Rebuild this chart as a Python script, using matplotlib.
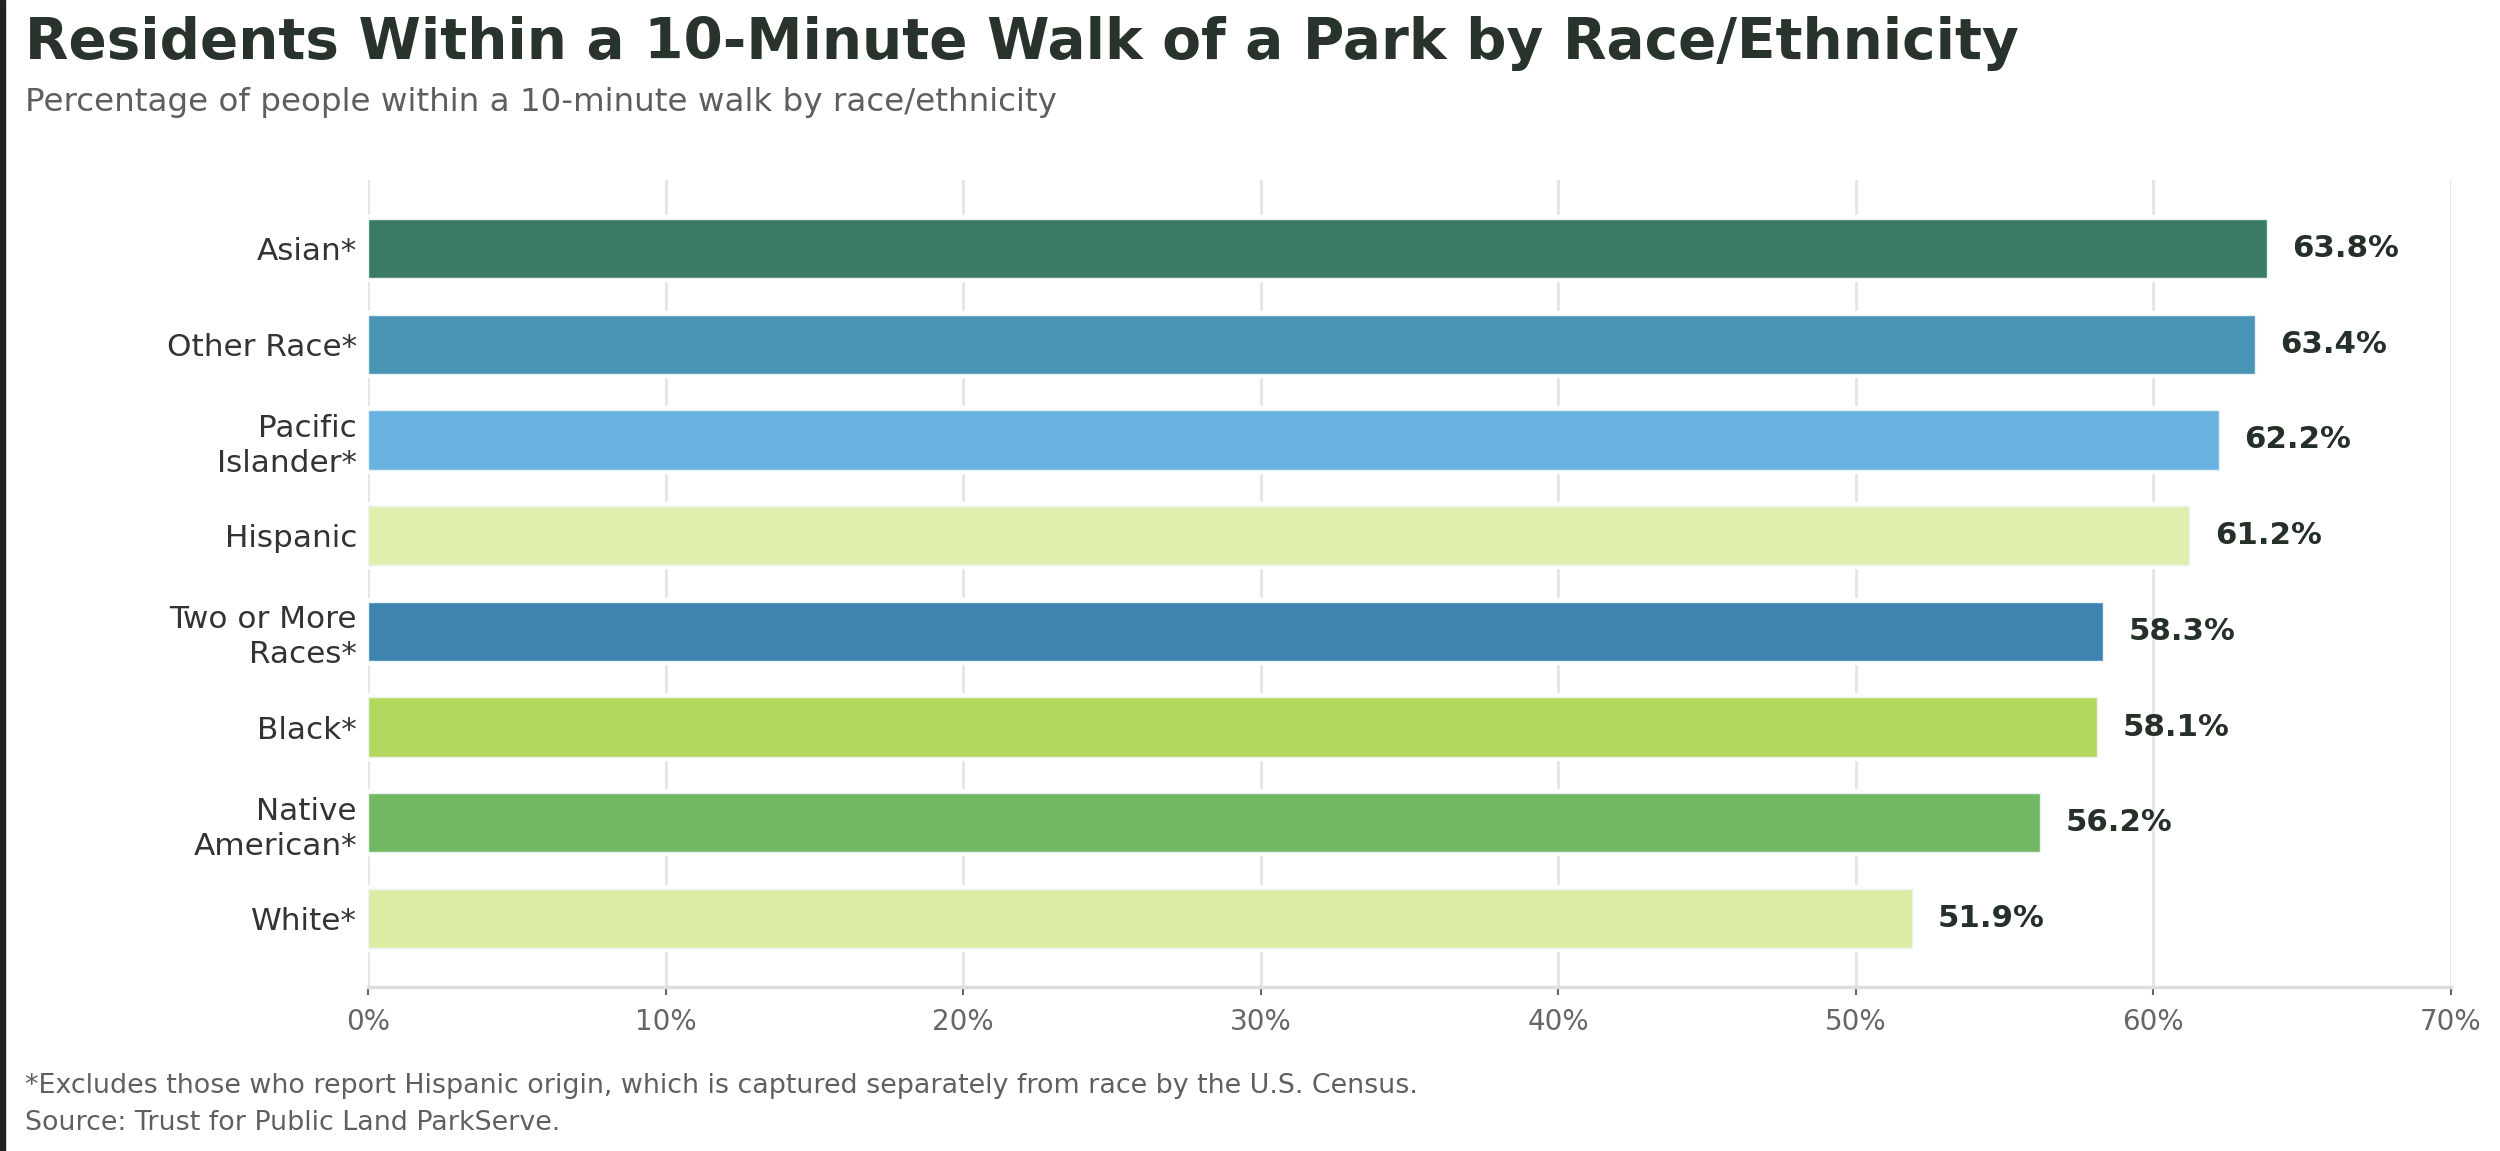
import numpy as np
import matplotlib
matplotlib.use("Agg")
import matplotlib.pyplot as plt
from matplotlib.patches import Rectangle

# Datos
categorias = ["Asian*", "Other Race*", "Pacific\nIslander*", "Hispanic",
              "Two or More\nRaces*", "Black*", "Native\nAmerican*", "White*"]
valores = [63.8, 63.4, 62.2, 61.2, 58.3, 58.1, 56.2, 51.9]
colores = ["#3b7b65", "#4a95b6", "#6ab2e1", "#e0efae",
           "#3f84b1", "#b2d95d", "#72b762", "#dcedA3"]
ticks_x = [0, 10, 20, 30, 40, 50, 60, 70]

titulo = "Residents Within a 10-Minute Walk of a Park by Race/Ethnicity"
subtitulo = "Percentage of people within a 10-minute walk by race/ethnicity"
nota = "*Excludes those who report Hispanic origin, which is captured separately from race by the U.S. Census."
fuente = "Source: Trust for Public Land ParkServe."

plt.rcParams['font.family'] = ['DejaVu Sans']

fig = plt.figure(figsize=(25, 11.51), dpi=100)
ax = fig.add_axes([0.1472, 0.1425, 0.8332, 0.7011])

y = np.arange(len(categorias))

# halo blanco detrás de cada barra (corta la rejilla)
ax.barh(y, valores, height=0.62, color="white", edgecolor="white",
        linewidth=6, zorder=2)
barras = ax.barh(y, valores, height=0.62, color=colores,
                 edgecolor="#e9f2f5", linewidth=1, zorder=3)

for yi, v in zip(y, valores):
    ax.annotate("{:.1f}%".format(v), xy=(v, yi), xytext=(18.5, 0),
                textcoords="offset points", ha="left", va="center",
                fontsize=22.2, fontweight="bold", color="#253028", zorder=4)

ax.set_xlim(0, 70)
ax.set_ylim(len(categorias) - 1 + 0.716, -0.716)
ax.set_xticks(ticks_x)
ax.set_xticklabels(["{}%".format(t) for t in ticks_x])
ax.set_yticks(y)
ax.set_yticklabels(categorias, fontsize=22.4, color="#333333",
                   linespacing=1.25)

ax.tick_params(axis="x", labelsize=20, labelcolor="#666666", color="#666666",
               length=6, width=1.5, pad=9)
ax.tick_params(axis="y", length=0, pad=8)

ax.grid(axis="x", color="#e6e6e6", linewidth=2.2, zorder=1)
ax.set_axisbelow(True)
for s in ["top", "right", "left"]:
    ax.spines[s].set_visible(False)
ax.spines["bottom"].set_color("#dddddd")
ax.spines["bottom"].set_linewidth(2.5)

fig.text(0.01, 0.9487, titulo, fontsize=40.7, fontweight="bold",
         color="#27332b", ha="left", va="baseline")
fig.text(0.01, 0.9036, subtitulo, fontsize=23.4, color="#5b605d",
         ha="left", va="baseline")
fig.text(0.01, 0.0504, nota, fontsize=19.35, color="#5f5f5f",
         ha="left", va="baseline")
fig.text(0.01, 0.0182, fuente, fontsize=19.35, color="#5f5f5f",
         ha="left", va="baseline")

# borde oscuro a la izquierda
fig.patches.append(Rectangle((0, 0), 0.0018, 1, transform=fig.transFigure,
                             color="#222222", zorder=10))

fig.savefig("out.png", dpi=100)
